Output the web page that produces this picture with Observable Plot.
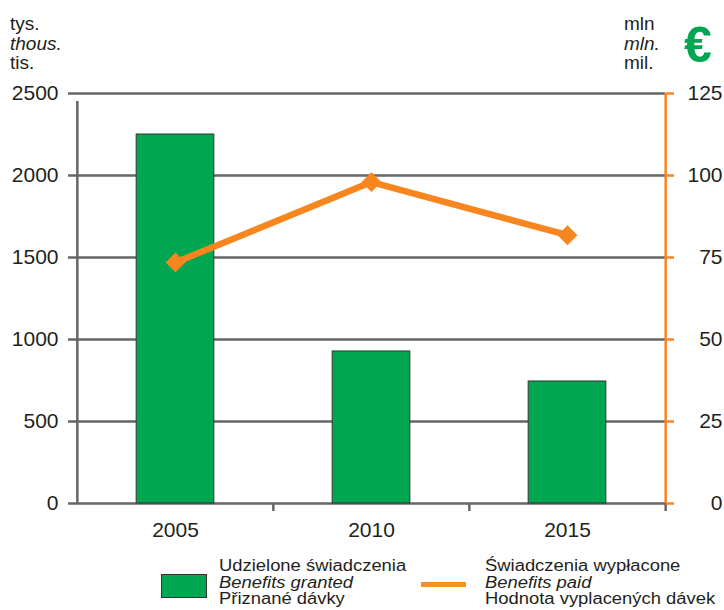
<!DOCTYPE html>
<html>
<head>
<meta charset="utf-8">
<script src="https://cdn.jsdelivr.net/npm/d3@7"></script>
<script src="https://cdn.jsdelivr.net/npm/@observablehq/plot@0.6"></script>
<style>
  html, body { margin: 0; padding: 0; background: #fff; }
  #wrap { position: relative; width: 724px; height: 610px; overflow: hidden;
          font-family: "Liberation Sans", Arial, sans-serif; color: #231f20; }
  #chart { position: absolute; left: 0; top: 0; }
  .units { position: absolute; font-size: 19px; line-height: 19.5px; top: 14px; }
  .euro { position: absolute; left: 684px; top: 20px; font-size: 50px; line-height: 50px;
          font-weight: bold; color: #00a650; }
  .legtext { position: absolute; font-size: 16px; line-height: 16.5px; top: 558px;
             transform: scaleX(1.15); transform-origin: left top; white-space: nowrap; }
  .swatch { position: absolute; left: 161px; top: 574px; width: 44px; height: 22px;
            background: #00a650; border: 1px solid #333; }
  .swline { position: absolute; left: 421px; top: 582px; width: 45px; height: 5px; background: #f7901e; }
</style>
</head>
<body>
<div id="wrap">
  <div id="chart"></div>
  <div class="units" style="left:10px">tys.<br><i>thous.</i><br>tis.</div>
  <div class="units" style="left:624px">mln<br><i>mln.</i><br>mil.</div>
  <div class="euro">€</div>
  <div class="swatch"></div>
  <div class="legtext" style="left:219px">Udzielone świadczenia<br><i>Benefits granted</i><br>Přiznané dávky</div>
  <div class="swline"></div>
  <div class="legtext" style="left:485px">Świadczenia wypłacone<br><i>Benefits paid</i><br>Hodnota vyplacených dávek</div>
</div>
<script>
// Benefits granted (thousands, left axis) and benefits paid (million EUR, right axis)
const years = ["2005", "2010", "2015"];
const granted = [2250, 927, 744];
const paid = [73.5, 98, 81.8];
const leftTicks = [0, 500, 1000, 1500, 2000, 2500];
const rightTicks = [0, 25, 50, 75, 100, 125];

const green = "#00a650";
const orange = "#f7861f";
const gray = "#666";

const width = 724, height = 610;
const marginLeft = 76, marginRight = 59, marginTop = 93, marginBottom = 107;
// right axis maps onto the left one
const k = leftTicks[leftTicks.length - 1] / rightTicks[rightTicks.length - 1];
const step = (width - marginLeft - marginRight) / years.length;

const data = years.map((year, i) => ({year, granted: granted[i], paid: paid[i]}));

const chart = Plot.plot({
  width, height, marginLeft, marginRight, marginTop, marginBottom,
  style: {fontFamily: "'Liberation Sans', Arial, sans-serif", fontSize: "21px", color: "#231f20", background: "transparent"},
  x: {domain: years, padding: 0, axis: null},
  y: {domain: [0, 2500], axis: null},
  marks: [
    Plot.gridY(leftTicks, {stroke: gray, strokeOpacity: 1, strokeWidth: 2.5}),
    Plot.barY(data, {x: "year", y: "granted", fill: green, stroke: "#333", strokeWidth: 1,
      insetLeft: (step - 78) / 2, insetRight: (step - 78) / 2}),
    // left axis
    Plot.axisY({ticks: leftTicks, anchor: "left", tickSize: 8, tickPadding: 10, stroke: gray,
      strokeWidth: 2.5, tickFormat: d => String(d), label: null, fontSize: 21}),
    Plot.ruleX([years[0]], {dx: -step / 2, y1: 0, y2: 2500, insetBottom: -8, stroke: gray, strokeWidth: 2.5}),
    // bottom axis: ticks on category boundaries
    Plot.ruleX(years.slice(1), {dx: -step / 2, y1: 0, y2: 0, insetBottom: -8, stroke: gray, strokeWidth: 2.5}),
    Plot.ruleX([years[years.length - 1]], {dx: step / 2, y1: 0, y2: 0, insetBottom: -8, stroke: gray, strokeWidth: 2.5}),
    Plot.axisX({tickSize: 0, tickPadding: 19, label: null, fontSize: 21}),
    // right axis
    Plot.ruleX([years[years.length - 1]], {dx: step / 2, y1: 0, y2: 2500, stroke: orange, strokeWidth: 2.5}),
    Plot.axisY({ticks: rightTicks.map(d => d * k), anchor: "right", tickSize: 8, stroke: orange,
      strokeWidth: 2.5, tickFormat: () => "", label: null}),
    Plot.text(rightTicks, {y: d => d * k, text: d => String(d), frameAnchor: "right", dx: 57,
      textAnchor: "end", fontSize: 21, fill: "#231f20"}),
    // benefits paid
    Plot.line(data, {x: "year", y: d => d.paid * k, stroke: orange, strokeWidth: 6.5}),
    Plot.dot(data, {x: "year", y: d => d.paid * k, symbol: "diamond2", r: 8, fill: orange, stroke: orange, strokeWidth: 1.5})
  ]
});
document.getElementById("chart").appendChild(chart);
</script>
</body>
</html>
